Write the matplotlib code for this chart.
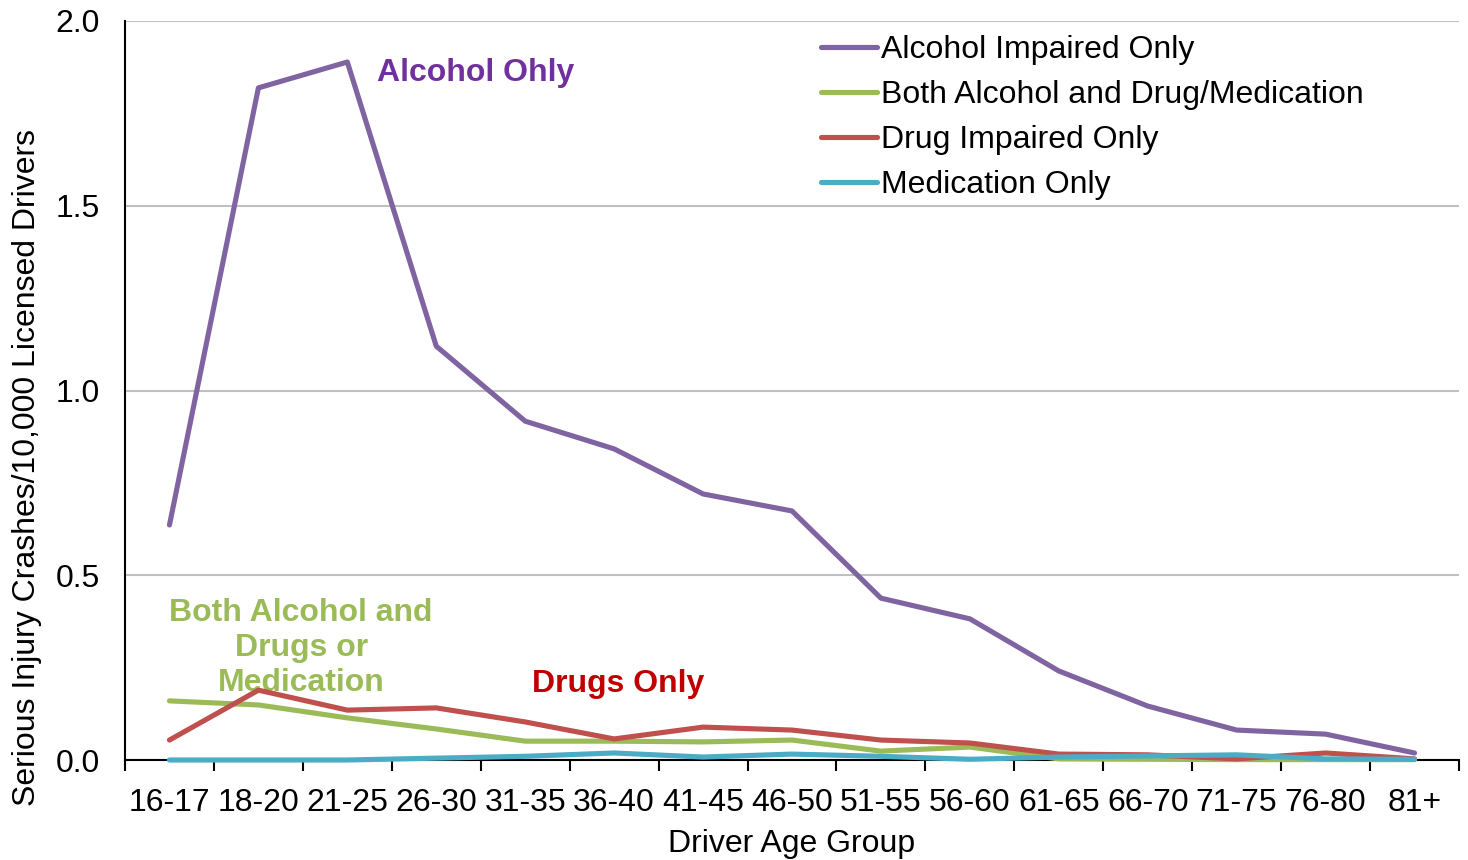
import numpy as np
import matplotlib
matplotlib.use("Agg")
import matplotlib.pyplot as plt

plt.rcParams['font.family'] = ['Liberation Sans', 'DejaVu Sans']

# Data
age_groups = ["16-17", "18-20", "21-25", "26-30", "31-35", "36-40", "41-45", "46-50",
              "51-55", "56-60", "61-65", "66-70", "71-75", "76-80", "81+"]
alcohol_only = [0.636, 1.819, 1.889, 1.120, 0.917, 0.842, 0.720, 0.674,
                0.438, 0.382, 0.241, 0.146, 0.081, 0.070, 0.019]
both_alc_drug = [0.160, 0.149, 0.114, 0.084, 0.051, 0.051, 0.049, 0.054,
                 0.024, 0.035, 0.003, 0.002, 0.001, 0.001, 0.001]
drug_only = [0.054, 0.189, 0.135, 0.141, 0.103, 0.057, 0.089, 0.081,
             0.054, 0.046, 0.016, 0.014, 0.003, 0.019, 0.003]
medication_only = [0.0, 0.0, 0.0, 0.005, 0.010, 0.019, 0.008, 0.016,
                   0.010, 0.002, 0.008, 0.011, 0.014, 0.003, 0.002]

x = np.arange(len(age_groups))
fs = 23

fig = plt.figure(figsize=(14.68, 8.6), dpi=100)
ax = fig.add_axes([125 / 1468, 100 / 860, 1334 / 1468, 739 / 860])

lw = 3.7
ax.plot(x, alcohol_only, color="#8064A2", lw=lw, label="Alcohol Impaired Only",
        solid_capstyle="round", clip_on=False, zorder=4)
ax.plot(x, both_alc_drug, color="#9BBB59", lw=lw, label="Both Alcohol and Drug/Medication",
        solid_capstyle="round", clip_on=False, zorder=4)
ax.plot(x, drug_only, color="#C0504D", lw=lw, label="Drug Impaired Only",
        solid_capstyle="round", clip_on=False, zorder=4)
ax.plot(x, medication_only, color="#4BACC6", lw=lw, label="Medication Only",
        solid_capstyle="round", clip_on=False, zorder=4)

ax.set_xlim(-0.5, len(age_groups) - 0.5)
ax.set_ylim(0, 2.0)
ax.set_yticks([0, 0.5, 1.0, 1.5, 2.0])
ax.set_yticklabels(["0.0", "0.5", "1.0", "1.5", "2.0"], fontsize=fs)
ax.tick_params(axis="y", length=0, pad=18)
ax.set_xticks(x)
ax.set_xticklabels(age_groups, fontsize=fs)
ax.set_xticks(np.arange(-0.5, len(age_groups), 1), minor=True)
ax.tick_params(axis="x", which="major", length=0, pad=20)
ax.tick_params(axis="x", which="minor", length=8, width=1.5, direction="out")

ax.grid(axis="y", color="#C0C0C0", lw=1.5)
ax.set_axisbelow(True)
for side in ["top", "right"]:
    ax.spines[side].set_visible(False)
ax.spines["left"].set_linewidth(1.5)
ax.spines["bottom"].set_linewidth(1.5)

ax.set_xlabel("Driver Age Group", fontsize=fs, labelpad=8)
ax.set_ylabel("Serious Injury Crashes/10,000 Licensed Drivers", fontsize=fs, labelpad=10)
ax.yaxis.label.set_y(0.396)

ax.text(2.33, 1.86, "Alcohol Ohly", color="#7030A0", fontsize=fs, fontweight="bold",
        ha="left", va="center")
ax.text(1.48, 0.303, "Both Alcohol and\nDrugs or\nMedication", color="#9BBB59", fontsize=fs,
        fontweight="bold", ha="center", va="center", linespacing=1.22)
ax.text(5.05, 0.205, "Drugs Only", color="#C00000", fontsize=fs, fontweight="bold",
        ha="center", va="center")

ax.legend(loc="upper left", bbox_to_anchor=(0.5005, 1.02), frameon=False, fontsize=fs,
          handlelength=1.75, handletextpad=0.1, labelspacing=0.47)

fig.savefig("out.png", dpi=100)
